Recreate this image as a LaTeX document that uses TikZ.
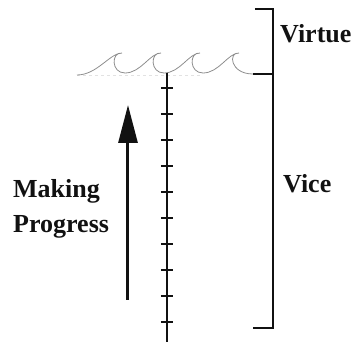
\documentclass[tikz,border=0pt]{standalone}
\usepackage{fontspec}
\setmainfont{Liberation Serif}
\usetikzlibrary{arrows.meta}
\definecolor{ink}   {HTML}{111111}
\definecolor{wavec} {HTML}{8E8E8E}
\definecolor{faint} {HTML}{E2E2E2}
\tikzset{
  lbl/.style   = {font=\bfseries\fontsize{26}{35}\selectfont, text=ink,
                  inner sep=0pt, align=left},
  brace/.style = {draw=ink, line width=2.4pt},
  rule/.style  = {draw=ink, line width=1.5pt},
  notch/.style = {draw=ink, line width=1.4pt},
  surf/.style  = {draw=wavec, line width=0.8pt},
  climb/.style = {-{Triangle[length=38pt,width=19pt]}, draw=ink, line width=3pt},
}

\begin{document}
\begin{tikzpicture}[x=1pt, y=-1pt]
  \useasboundingbox (0,0) rectangle (360,342);

  % the surface
  \coordinate (w0)   at (77,75);
  \coordinate (wend) at (253,74);
  \draw[faint, dashed, line width=0.6pt] (w0) -- (200,75);
  \draw[surf] (w0)
    .. controls (97,75) and (110,53) .. (122,53)
    .. controls (111,52) and (111,73) .. (125,73)
    .. controls (141,73) and (150,53) .. (161,53)
    .. controls (150,52) and (150,73) .. (164,73)
    .. controls (180,73) and (189,53) .. (200,53)
    .. controls (189,52) and (189,73) .. (203,73)
    .. controls (219,73) and (228,53) .. (239,53)
    .. controls (228,52) and (230,74) .. (wend);

  % the scale
  \coordinate (top) at (167,73);
  \coordinate (bot) at (167,342);
  \draw[rule] (top) -- (bot);
  \draw[ink, line width=2.6pt] (top) -- (167,113);
  \draw[ink, line width=2.6pt] (167,317) -- (bot);
  \foreach \y in {88,114,...,322}
    \draw[notch] (161,\y) -- (173,\y);

  % bracket
  \coordinate (b1) at (273,9);
  \coordinate (b2) at (273,74);
  \coordinate (b3) at (273,328);
  \draw[brace] (255,9) -- (b1) -- (b3) -- (253,328);
  \draw[brace] (wend) -- (b2);

  \node[lbl, anchor=base west] (virtue) at (280,43)  {Virtue};
  \node[lbl, anchor=base west] (vice)   at (283,193) {Vice};

  % progress
  \coordinate (from) at (128,300);
  \coordinate (to)   at (128,105);
  \draw[climb] (from) -- (to);
  \node[lbl, anchor=north west] (progress) at (13,179) {Making\\Progress};
\end{tikzpicture}
\end{document}
